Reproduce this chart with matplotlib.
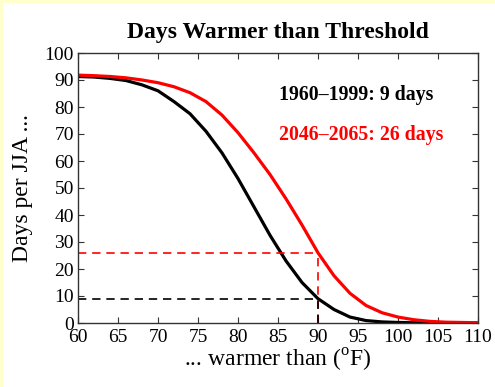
import numpy as np
import matplotlib.pyplot as plt
from matplotlib.patches import Rectangle

plt.rcParams['font.family'] = ['Liberation Serif', 'DejaVu Serif']
plt.rcParams['mathtext.fontset'] = 'custom'
plt.rcParams['mathtext.rm'] = 'Liberation Serif'

# threshold temperature (F) and days per JJA above it
temps = [60, 62, 64, 66, 68, 70, 72, 74, 76, 78, 80, 82, 84, 86, 88, 90,
         92, 94, 96, 98, 100, 102, 104, 106, 108, 110]
days_past = [91.3, 91.1, 90.6, 89.8, 88.2, 86.0, 82.0, 77.5, 71.0, 63.0, 53.5, 43.0,
             32.5, 23.0, 15.0, 9.0, 5.0, 2.2, 0.9, 0.4, 0.2, 0.1, 0.0, 0.0, 0.0, 0.0]
days_future = [91.8, 91.6, 91.3, 90.8, 90.0, 89.0, 87.5, 85.3, 82.0, 77.0, 70.5, 63.0,
               55.0, 46.0, 36.3, 26.0, 17.5, 11.0, 6.5, 3.8, 2.2, 1.2, 0.6, 0.3, 0.2, 0.1]
threshold = 90
past_days = 9
future_days = 26

fig = plt.figure(figsize=(4.95, 3.87), dpi=100)
fig.patch.set_facecolor('#ffffcc')
fig.patches.append(Rectangle((3 / 495, 0), 1, 1 - 3 / 387, transform=fig.transFigure,
                             facecolor='white', edgecolor='none', zorder=-10))
ax = fig.add_axes([78 / 495, 1 - 323 / 387, 400 / 495, 270 / 387])

ax.plot(temps, days_past, color='black', lw=2.3)
ax.plot(temps, days_future, color='red', lw=2.3)

ax.plot([60, threshold], [future_days, future_days], color='red', lw=1.2, ls=(0, (5, 3.5)))
ax.plot([threshold, threshold], [0, future_days], color='red', lw=1.2, ls=(0, (5, 3.5)))
ax.plot([60, threshold], [past_days, past_days], color='black', lw=1.2, ls=(0, (5, 3.5)))
ax.plot([threshold, threshold], [0, past_days], color='black', lw=1.2, ls=(0, (5, 3.5)))

ax.text(85.1, 84.4, '1960\u20131999: 9 days', color='black', fontsize=14.3,
        fontweight='bold', va='center')
ax.text(85.1, 69.6, '2046\u20132065: 26 days', color='red', fontsize=14.3,
        fontweight='bold', va='center')

ax.set_xlim(60, 110)
ax.set_ylim(0, 100)
ax.set_xticks(range(60, 111, 5))
ax.set_yticks(range(0, 101, 10))
ax.tick_params(direction='in', top=True, right=True, length=4, labelsize=14,
               color='#333333', pad=3)
ax.tick_params(axis='x', pad=4)
for s in ax.spines.values():
    s.set_color('#333333')
    s.set_linewidth(1.0)

ax.set_title('Days Warmer than Threshold', fontsize=17, fontweight='bold', pad=11)
ax.set_xlabel('... warmer than ($^{\\rm o}$F)', fontsize=17, labelpad=1)
ax.set_ylabel('Days per JJA ...', fontsize=17, labelpad=8)

fig.savefig('out.png', dpi=100, facecolor=fig.get_facecolor())
